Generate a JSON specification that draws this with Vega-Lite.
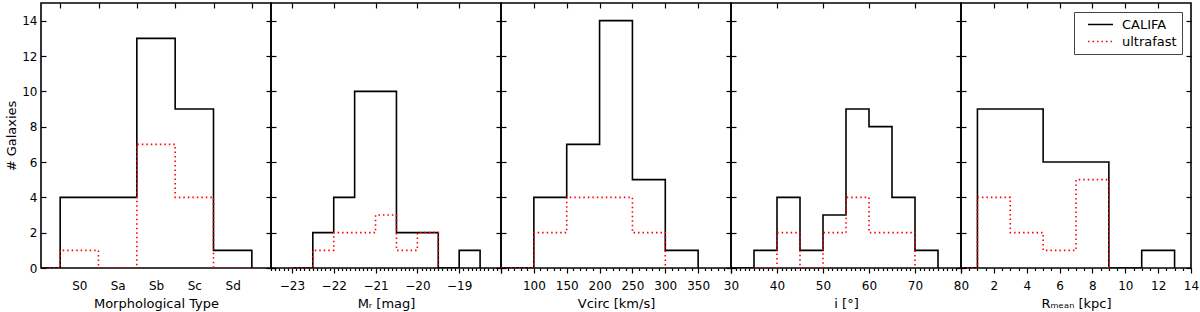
{
  "$schema": "https://vega.github.io/schema/vega-lite/v6.json",
  "padding": {"left": 4, "top": 1, "right": 0, "bottom": 0},
  "spacing": 0,
  "bounds": "flush",
  "config": {
    "view": {"stroke": "black", "strokeWidth": 1.6},
    "concat": {"spacing": 0},
    "axis": {"domain": false, "grid": false, "labelFont": "DejaVu Sans", "labelFontSize": 12, "labelColor": "black", "titleFont": "DejaVu Sans", "titleFontSize": 13, "titleFontWeight": "normal", "titleColor": "black", "tickColor": "black", "tickWidth": 1.2, "labelOverlap": false, "labelFlush": false, "labelBound": false}
  },
  "resolve": {"scale": {"color": "independent", "strokeDash": "independent"}, "legend": {"color": "independent", "strokeDash": "independent"}},
  "data": {"values": [
    {"panel": "type", "series": "CALIFA", "x": -1.5, "n": 0},
    {"panel": "type", "series": "CALIFA", "x": -0.5, "n": 4},
    {"panel": "type", "series": "CALIFA", "x": 0.5, "n": 4},
    {"panel": "type", "series": "CALIFA", "x": 1.5, "n": 13},
    {"panel": "type", "series": "CALIFA", "x": 2.5, "n": 9},
    {"panel": "type", "series": "CALIFA", "x": 3.5, "n": 1},
    {"panel": "type", "series": "CALIFA", "x": 4.5, "n": 0},
    {"panel": "type", "series": "ultrafast", "x": -1.5, "n": 0},
    {"panel": "type", "series": "ultrafast", "x": -0.5, "n": 1},
    {"panel": "type", "series": "ultrafast", "x": 0.5, "n": 0},
    {"panel": "type", "series": "ultrafast", "x": 1.5, "n": 7},
    {"panel": "type", "series": "ultrafast", "x": 2.5, "n": 4},
    {"panel": "type", "series": "ultrafast", "x": 3.5, "n": 0},
    {"panel": "type", "series": "ultrafast", "x": 4.5, "n": 0},
    {"panel": "mr", "series": "CALIFA", "x": -23, "n": 0},
    {"panel": "mr", "series": "CALIFA", "x": -22.5, "n": 2},
    {"panel": "mr", "series": "CALIFA", "x": -22, "n": 4},
    {"panel": "mr", "series": "CALIFA", "x": -21.5, "n": 10},
    {"panel": "mr", "series": "CALIFA", "x": -21, "n": 10},
    {"panel": "mr", "series": "CALIFA", "x": -20.5, "n": 2},
    {"panel": "mr", "series": "CALIFA", "x": -20, "n": 2},
    {"panel": "mr", "series": "CALIFA", "x": -19.5, "n": 0},
    {"panel": "mr", "series": "CALIFA", "x": -19, "n": 1},
    {"panel": "mr", "series": "CALIFA", "x": -18.5, "n": 0},
    {"panel": "mr", "series": "ultrafast", "x": -23, "n": 0},
    {"panel": "mr", "series": "ultrafast", "x": -22.5, "n": 1},
    {"panel": "mr", "series": "ultrafast", "x": -22, "n": 2},
    {"panel": "mr", "series": "ultrafast", "x": -21.5, "n": 2},
    {"panel": "mr", "series": "ultrafast", "x": -21, "n": 3},
    {"panel": "mr", "series": "ultrafast", "x": -20.5, "n": 1},
    {"panel": "mr", "series": "ultrafast", "x": -20, "n": 2},
    {"panel": "mr", "series": "ultrafast", "x": -19.5, "n": 0},
    {"panel": "vc", "series": "CALIFA", "x": 50, "n": 0},
    {"panel": "vc", "series": "CALIFA", "x": 100, "n": 4},
    {"panel": "vc", "series": "CALIFA", "x": 150, "n": 7},
    {"panel": "vc", "series": "CALIFA", "x": 200, "n": 14},
    {"panel": "vc", "series": "CALIFA", "x": 250, "n": 5},
    {"panel": "vc", "series": "CALIFA", "x": 300, "n": 1},
    {"panel": "vc", "series": "CALIFA", "x": 350, "n": 0},
    {"panel": "vc", "series": "ultrafast", "x": 50, "n": 0},
    {"panel": "vc", "series": "ultrafast", "x": 100, "n": 2},
    {"panel": "vc", "series": "ultrafast", "x": 150, "n": 4},
    {"panel": "vc", "series": "ultrafast", "x": 200, "n": 4},
    {"panel": "vc", "series": "ultrafast", "x": 250, "n": 2},
    {"panel": "vc", "series": "ultrafast", "x": 300, "n": 0},
    {"panel": "inc", "series": "CALIFA", "x": 30, "n": 0},
    {"panel": "inc", "series": "CALIFA", "x": 35, "n": 1},
    {"panel": "inc", "series": "CALIFA", "x": 40, "n": 4},
    {"panel": "inc", "series": "CALIFA", "x": 45, "n": 1},
    {"panel": "inc", "series": "CALIFA", "x": 50, "n": 3},
    {"panel": "inc", "series": "CALIFA", "x": 55, "n": 9},
    {"panel": "inc", "series": "CALIFA", "x": 60, "n": 8},
    {"panel": "inc", "series": "CALIFA", "x": 65, "n": 4},
    {"panel": "inc", "series": "CALIFA", "x": 70, "n": 1},
    {"panel": "inc", "series": "CALIFA", "x": 75, "n": 0},
    {"panel": "inc", "series": "ultrafast", "x": 35, "n": 0},
    {"panel": "inc", "series": "ultrafast", "x": 40, "n": 2},
    {"panel": "inc", "series": "ultrafast", "x": 45, "n": 0},
    {"panel": "inc", "series": "ultrafast", "x": 50, "n": 2},
    {"panel": "inc", "series": "ultrafast", "x": 55, "n": 4},
    {"panel": "inc", "series": "ultrafast", "x": 60, "n": 2},
    {"panel": "inc", "series": "ultrafast", "x": 65, "n": 2},
    {"panel": "inc", "series": "ultrafast", "x": 70, "n": 0},
    {"panel": "rm", "series": "CALIFA", "x": -1, "n": 0},
    {"panel": "rm", "series": "CALIFA", "x": 1, "n": 9},
    {"panel": "rm", "series": "CALIFA", "x": 3, "n": 9},
    {"panel": "rm", "series": "CALIFA", "x": 5, "n": 6},
    {"panel": "rm", "series": "CALIFA", "x": 7, "n": 6},
    {"panel": "rm", "series": "CALIFA", "x": 9, "n": 0},
    {"panel": "rm", "series": "CALIFA", "x": 11, "n": 1},
    {"panel": "rm", "series": "CALIFA", "x": 13, "n": 0},
    {"panel": "rm", "series": "ultrafast", "x": -1, "n": 0},
    {"panel": "rm", "series": "ultrafast", "x": 1, "n": 4},
    {"panel": "rm", "series": "ultrafast", "x": 3, "n": 2},
    {"panel": "rm", "series": "ultrafast", "x": 5, "n": 1},
    {"panel": "rm", "series": "ultrafast", "x": 7, "n": 5},
    {"panel": "rm", "series": "ultrafast", "x": 9, "n": 0}
  ]},
  "hconcat": [
    {
      "width": 230, "height": 265,
      "transform": [{"filter": "datum.panel === 'type'"}],
      "resolve": {"axis": {"x": "independent", "y": "independent"}},
      "layer": [
        {
          "transform": [{"filter": "datum.series === 'CALIFA'"}],
          "mark": {"type": "line", "interpolate": "step-after", "color": "black", "strokeWidth": 1.6, "clip": true},
          "encoding": {
            "x": {"field": "x", "type": "quantitative", "scale": {"domain": [-1, 5], "nice": false, "zero": false},
                  "axis": {"orient": "bottom", "values": [0, 1, 2, 3, 4], "ticks": false, "labelPadding": 12, "labelExpr": "['S0','Sa','Sb','Sc','Sd'][datum.value]", "title": "Morphological Type", "titlePadding": 6}},
            "y": {"field": "n", "type": "quantitative", "scale": {"domain": [0, 15], "nice": false},
                  "axis": {"orient": "left", "values": [0, 2, 4, 6, 8, 10, 12, 14], "tickSize": -5, "labelPadding": 9, "title": "# Galaxies", "titlePadding": 3}}
          }
        },
        {
          "transform": [{"filter": "datum.series === 'ultrafast'"}],
          "mark": {"type": "line", "interpolate": "step-after", "color": "#ff0000", "strokeWidth": 1.6, "strokeDash": [1.5, 3], "clip": true},
          "encoding": {
            "x": {"field": "x", "type": "quantitative", "axis": {"orient": "top", "values": [-0.5, 0.5, 1.5, 2.5, 3.5, 4.5], "tickSize": -5, "labels": false, "title": null}},
            "y": {"field": "n", "type": "quantitative", "axis": {"orient": "right", "values": [0, 2, 4, 6, 8, 10, 12, 14], "tickSize": -5, "labels": false, "title": null}}
          }
        }
      ]
    },
    {
      "width": 230, "height": 265,
      "transform": [{"filter": "datum.panel === 'mr'"}],
      "resolve": {"axis": {"x": "independent", "y": "independent"}},
      "layer": [
        {
          "transform": [{"filter": "datum.series === 'CALIFA'"}],
          "mark": {"type": "line", "interpolate": "step-after", "color": "black", "strokeWidth": 1.6, "clip": true},
          "encoding": {
            "x": {"field": "x", "type": "quantitative", "scale": {"domain": [-23.5, -18], "nice": false, "zero": false},
                  "axis": {"orient": "bottom", "values": [-23.5,-23.4,-23.3,-23.2,-23.1,-23,-22.9,-22.8,-22.7,-22.6,-22.5,-22.4,-22.3,-22.2,-22.1,-22,-21.9,-21.8,-21.7,-21.6,-21.5,-21.4,-21.3,-21.2,-21.1,-21,-20.9,-20.8,-20.7,-20.6,-20.5,-20.4,-20.3,-20.2,-20.1,-20,-19.9,-19.8,-19.7,-19.6,-19.5,-19.4,-19.3,-19.2,-19.1,-19,-18.9,-18.8,-18.7,-18.6,-18.5,-18.4,-18.3,-18.2,-18.1,-18],
                           "tickSize": {"condition": {"test": "abs(datum.value - round(datum.value)) < 0.01", "value": 5}, "value": 2.5},
                           "labelPadding": 7,
                           "labelExpr": "abs(datum.value - round(datum.value)) < 0.01 && datum.value < -18.5 ? format(datum.value, 'd') : ''",
                           "title": "Mᵣ [mag]", "titlePadding": 6}},
            "y": {"field": "n", "type": "quantitative", "scale": {"domain": [0, 15], "nice": false},
                  "axis": {"orient": "left", "values": [0, 2, 4, 6, 8, 10, 12, 14], "tickSize": -5, "labels": false, "title": null}}
          }
        },
        {
          "transform": [{"filter": "datum.series === 'ultrafast'"}],
          "mark": {"type": "line", "interpolate": "step-after", "color": "#ff0000", "strokeWidth": 1.6, "strokeDash": [1.5, 3], "clip": true},
          "encoding": {
            "x": {"field": "x", "type": "quantitative", "axis": {"orient": "top", "values": [-23, -22, -21, -20, -19], "tickSize": -5, "labels": false, "title": null}},
            "y": {"field": "n", "type": "quantitative", "axis": {"orient": "right", "values": [0, 2, 4, 6, 8, 10, 12, 14], "tickSize": -5, "labels": false, "title": null}}
          }
        }
      ]
    },
    {
      "width": 230, "height": 265,
      "transform": [{"filter": "datum.panel === 'vc'"}],
      "resolve": {"axis": {"x": "independent", "y": "independent"}},
      "layer": [
        {
          "transform": [{"filter": "datum.series === 'CALIFA'"}],
          "mark": {"type": "line", "interpolate": "step-after", "color": "black", "strokeWidth": 1.6, "clip": true},
          "encoding": {
            "x": {"field": "x", "type": "quantitative", "scale": {"domain": [50, 400], "nice": false, "zero": false},
                  "axis": {"orient": "bottom", "values": [50,60,70,80,90,100,110,120,130,140,150,160,170,180,190,200,210,220,230,240,250,260,270,280,290,300,310,320,330,340,350,360,370,380,390,400],
                           "tickSize": {"condition": {"test": "datum.value % 50 === 0", "value": 5}, "value": 2.5},
                           "labelPadding": 7,
                           "labelExpr": "datum.value % 50 === 0 && datum.value >= 100 && datum.value <= 350 ? format(datum.value, 'd') : ''",
                           "title": "Vcirc [km/s]", "titlePadding": 6}},
            "y": {"field": "n", "type": "quantitative", "scale": {"domain": [0, 15], "nice": false},
                  "axis": {"orient": "left", "values": [0, 2, 4, 6, 8, 10, 12, 14], "tickSize": -5, "labels": false, "title": null}}
          }
        },
        {
          "transform": [{"filter": "datum.series === 'ultrafast'"}],
          "mark": {"type": "line", "interpolate": "step-after", "color": "#ff0000", "strokeWidth": 1.6, "strokeDash": [1.5, 3], "clip": true},
          "encoding": {
            "x": {"field": "x", "type": "quantitative", "axis": {"orient": "top", "values": [100, 150, 200, 250, 300, 350], "tickSize": -5, "labels": false, "title": null}},
            "y": {"field": "n", "type": "quantitative", "axis": {"orient": "right", "values": [0, 2, 4, 6, 8, 10, 12, 14], "tickSize": -5, "labels": false, "title": null}}
          }
        }
      ]
    },
    {
      "width": 230, "height": 265,
      "transform": [{"filter": "datum.panel === 'inc'"}],
      "resolve": {"axis": {"x": "independent", "y": "independent"}},
      "layer": [
        {
          "transform": [{"filter": "datum.series === 'CALIFA'"}],
          "mark": {"type": "line", "interpolate": "step-after", "color": "black", "strokeWidth": 1.6, "clip": true},
          "encoding": {
            "x": {"field": "x", "type": "quantitative", "scale": {"domain": [30, 80], "nice": false, "zero": false},
                  "axis": {"orient": "bottom", "values": [30,31,32,33,34,35,36,37,38,39,40,41,42,43,44,45,46,47,48,49,50,51,52,53,54,55,56,57,58,59,60,61,62,63,64,65,66,67,68,69,70,71,72,73,74,75,76,77,78,79,80],
                           "tickSize": {"condition": {"test": "datum.value % 10 === 0", "value": 5}, "value": 2.5},
                           "labelPadding": 7,
                           "labelExpr": "datum.value % 10 === 0 ? format(datum.value, 'd') : ''",
                           "title": "i [°]", "titlePadding": 6}},
            "y": {"field": "n", "type": "quantitative", "scale": {"domain": [0, 15], "nice": false},
                  "axis": {"orient": "left", "values": [0, 2, 4, 6, 8, 10, 12, 14], "tickSize": -5, "labels": false, "title": null}}
          }
        },
        {
          "transform": [{"filter": "datum.series === 'ultrafast'"}],
          "mark": {"type": "line", "interpolate": "step-after", "color": "#ff0000", "strokeWidth": 1.6, "strokeDash": [1.5, 3], "clip": true},
          "encoding": {
            "x": {"field": "x", "type": "quantitative", "axis": {"orient": "top", "values": [40, 50, 60, 70], "tickSize": -5, "labels": false, "title": null}},
            "y": {"field": "n", "type": "quantitative", "axis": {"orient": "right", "values": [0, 2, 4, 6, 8, 10, 12, 14], "tickSize": -5, "labels": false, "title": null}}
          }
        }
      ]
    },
    {
      "width": 230, "height": 265,
      "transform": [{"filter": "datum.panel === 'rm'"}],
      "resolve": {"axis": {"x": "independent", "y": "independent"}},
      "layer": [
        {
          "transform": [{"filter": "datum.series === 'CALIFA'"}],
          "mark": {"type": "line", "interpolate": "step-after", "strokeWidth": 1.6, "clip": true},
          "encoding": {
            "x": {"field": "x", "type": "quantitative", "scale": {"domain": [0, 14], "nice": false, "zero": false},
                  "axis": {"orient": "bottom", "values": [0,0.5,1,1.5,2,2.5,3,3.5,4,4.5,5,5.5,6,6.5,7,7.5,8,8.5,9,9.5,10,10.5,11,11.5,12,12.5,13,13.5,14],
                           "tickSize": {"condition": {"test": "datum.value % 2 === 0", "value": 5}, "value": 2.5},
                           "labelPadding": 7,
                           "labelExpr": "datum.value % 2 === 0 && datum.value > 0 ? format(datum.value, 'd') : ''",
                           "title": "Rₘₑₐₙ [kpc]", "titlePadding": 6}},
            "y": {"field": "n", "type": "quantitative", "scale": {"domain": [0, 15], "nice": false},
                  "axis": {"orient": "left", "values": [0, 2, 4, 6, 8, 10, 12, 14], "tickSize": -5, "labels": false, "title": null}},
            "color": {"field": "series", "type": "nominal", "scale": {"domain": ["CALIFA", "ultrafast"], "range": ["black", "#ff0000"]},
                      "legend": {"orient": "top-right", "offset": 9, "title": null, "strokeColor": "#444", "fillColor": "white", "padding": 5, "labelFont": "DejaVu Sans", "labelFontSize": 13, "labelColor": "black", "symbolType": "M-2,0H2", "symbolSize": 156, "symbolStrokeWidth": 1.6, "symbolOffset": 14, "labelOffset": 14, "rowPadding": 2}},
            "strokeDash": {"field": "series", "type": "nominal", "scale": {"domain": ["CALIFA", "ultrafast"], "range": [[1, 0], [1.5, 3]]},
                      "legend": {"orient": "top-right", "offset": 9, "title": null, "strokeColor": "#444", "fillColor": "white", "padding": 5, "labelFont": "DejaVu Sans", "labelFontSize": 13, "labelColor": "black", "symbolType": "M-2,0H2", "symbolSize": 156, "symbolStrokeWidth": 1.6, "symbolOffset": 14, "labelOffset": 14, "rowPadding": 2}}
          }
        },
        {
          "transform": [{"filter": "datum.series === 'ultrafast'"}],
          "mark": {"type": "line", "interpolate": "step-after", "strokeWidth": 1.6, "clip": true},
          "encoding": {
            "x": {"field": "x", "type": "quantitative", "axis": {"orient": "top", "values": [2, 4, 6, 8, 10, 12], "tickSize": -5, "labels": false, "title": null}},
            "y": {"field": "n", "type": "quantitative", "axis": {"orient": "right", "values": [0, 2, 4, 6, 8, 10, 12, 14], "tickSize": -5, "labels": false, "title": null}},
            "color": {"field": "series", "type": "nominal"},
            "strokeDash": {"field": "series", "type": "nominal"}
          }
        }
      ]
    }
  ]
}
